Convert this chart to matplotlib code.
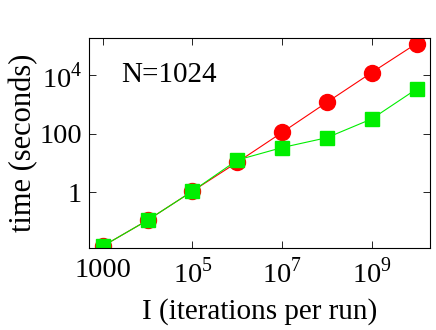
import numpy as np
import matplotlib.pyplot as plt

plt.rcParams['font.family'] = ['Liberation Serif', 'DejaVu Serif']
plt.rcParams['mathtext.fontset'] = 'custom'
plt.rcParams['mathtext.rm'] = 'Liberation Serif'

# iteraciones por corrida
iters = [1e3, 1e4, 1e5, 1e6, 1e7, 1e8, 1e9, 1e10]
# tiempos (segundos)
t_red = [0.0145, 0.112, 1.1, 10.7, 112, 1200, 12500, 123000]
t_green = [0.0145, 0.112, 1.1, 12.7, 34, 74, 324, 3400]

fig = plt.figure(figsize=(4.36, 3.3), dpi=100)
ax = fig.add_axes([89/436, 1 - 248/330, (430-89)/436, (248-38)/330])

ax.plot(iters, t_red, '-', color='#ff0000', lw=0.8, marker='o', ms=11.5,
        mec='#ff0000', mfc='#ff0000')
ax.plot(iters, t_green, '-', color='#00ee00', lw=0.8, marker='s', ms=9.5,
        mec='#00ee00', mfc='#00ee00')

ax.set_xscale('log')
ax.set_yscale('log')
ax.set_xlim(490, 2e10)
ax.set_ylim(0.0125, 1.9e5)

ax.set_xticks([1e3, 1e5, 1e7, 1e9])
ax.set_xticklabels(['1000', r'$10^5$', r'$10^7$', r'$10^9$'])
ax.set_yticks([1, 100, 1e4])
ax.set_yticklabels(['1', '100', r'$10^4$'])

ax.tick_params(which='both', direction='in', top=True, right=True, labelsize=20.5)
ax.tick_params(which='major', length=5, width=0.6)
ax.tick_params(which='minor', length=2.5, width=0.5)
ax.tick_params(axis='x', pad=7)
ax.tick_params(axis='y', pad=5)
for s in ax.spines.values():
    s.set_linewidth(0.8)

ax.text(0.095, 0.885, 'N=1024', transform=ax.transAxes, fontsize=21, va='top')

ax.set_xlabel('I (iterations per run)', fontsize=21, labelpad=7)
ax.set_ylabel('time (seconds)', fontsize=22, labelpad=1)

fig.savefig('out.png', dpi=100)
